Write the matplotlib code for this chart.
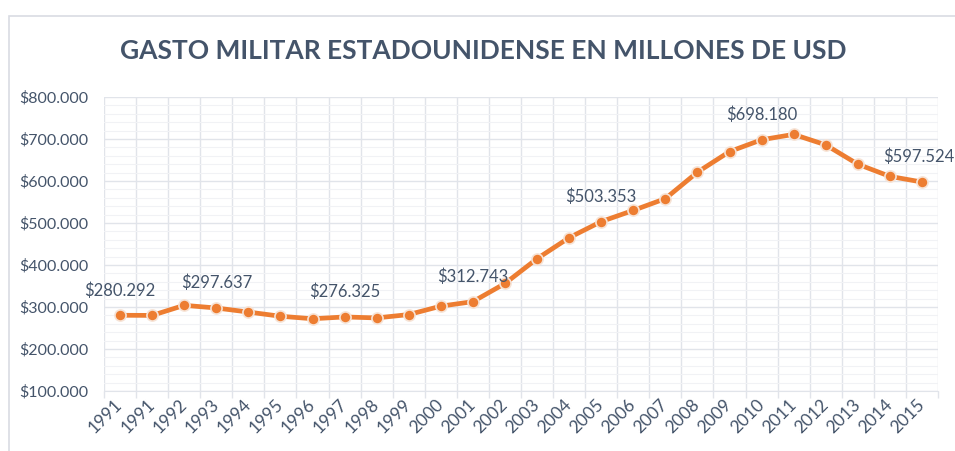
import matplotlib
matplotlib.use("Agg")
import matplotlib.pyplot as plt
from matplotlib.ticker import FuncFormatter, MultipleLocator
from matplotlib.patches import Rectangle
from matplotlib.transforms import ScaledTranslation

years = ["1991", "1991", "1992", "1993", "1994", "1995", "1996", "1997", "1998",
         "1999", "2000", "2001", "2002", "2003", "2004", "2005", "2006", "2007",
         "2008", "2009", "2010", "2011", "2012", "2013", "2014", "2015"]
spending = [280.292, 280, 304, 297.637, 288, 278, 272, 276.325, 274, 282, 302,
            312.743, 356, 415, 465, 503.353, 530, 558, 621, 670, 698.180, 711,
            686, 640, 611, 597.524]
labelled = [0, 3, 7, 11, 15, 20, 25]

n = len(spending)

ORANGE = "#ED7D31"
TEXT = "#44546A"
GRID = "#E1E4EA"

plt.rcParams['font.family'] = ['Lato', 'DejaVu Sans']

W, H = 955, 451
fig = plt.figure(figsize=(W / 100, H / 100), dpi=100)
fig.patch.set_facecolor("white")

# chart outer border
fig.add_artist(Rectangle((8.5 / W, -0.1), 1.2, 1 - 15.5 / H + 0.1, transform=fig.transFigure,
                         fill=False, edgecolor="#D9DCE3", linewidth=1.2))

left, right, top, bottom = 104, 938, 97, 391
ax = fig.add_axes([left / W, 1 - bottom / H, (right - left) / W, (bottom - top) / H])

x = list(range(n))
ax.plot(x, spending, color=ORANGE, linewidth=3.4, marker="o", markersize=8,
        markerfacecolor=ORANGE, markeredgecolor="#F6E3D6", markeredgewidth=1.2,
        zorder=3, solid_capstyle="round")

for i in labelled:
    dx = -2 if i == n - 1 else 0
    ax.annotate("$" + f"{spending[i]:.3f}", (x[i], spending[i]), xytext=(dx, 12),
                textcoords="offset points", ha="center", va="bottom",
                fontsize=12, color=TEXT, zorder=4)

ax.set_xlim(-0.5, n - 0.5)
ax.set_ylim(100, 800)
ax.yaxis.set_major_locator(MultipleLocator(100))
ax.yaxis.set_minor_locator(MultipleLocator(20))
ax.yaxis.set_major_formatter(FuncFormatter(lambda v, p: "$" + f"{v:.0f}.000"))

ax.set_xticks(x)
ax.set_xticklabels(years, rotation=45, ha="right", va="center",
                   rotation_mode="anchor", fontsize=12.5, color=TEXT)
shift = ScaledTranslation(5 / 100, 0, fig.dpi_scale_trans)
for lbl in ax.get_xticklabels():
    lbl.set_transform(lbl.get_transform() + shift)
ax.set_xticks([i - 0.5 for i in range(n + 1)], minor=True)
ax.tick_params(axis="x", which="major", length=0, pad=8)
ax.tick_params(axis="x", which="minor", length=5, color=GRID, width=1)
ax.tick_params(axis="y", which="both", length=0, labelsize=11.5, labelcolor=TEXT, pad=11.5)

ax.grid(True, axis="x", which="minor", color=GRID, linewidth=1)
ax.grid(True, axis="y", which="major", color=GRID, linewidth=1)
ax.grid(True, axis="y", which="minor", color="#F1F2F5", linewidth=0.8)
ax.set_axisbelow(True)
for s in ax.spines.values():
    s.set_visible(False)
ax.spines["bottom"].set_visible(True)
ax.spines["bottom"].set_color(GRID)

fig.text(483 / W, 1 - 51 / H, "GASTO MILITAR ESTADOUNIDENSE EN MILLONES DE USD",
         ha="center", va="center", fontsize=19, fontweight="bold", color=TEXT)

fig.savefig("out.png", dpi=100)
